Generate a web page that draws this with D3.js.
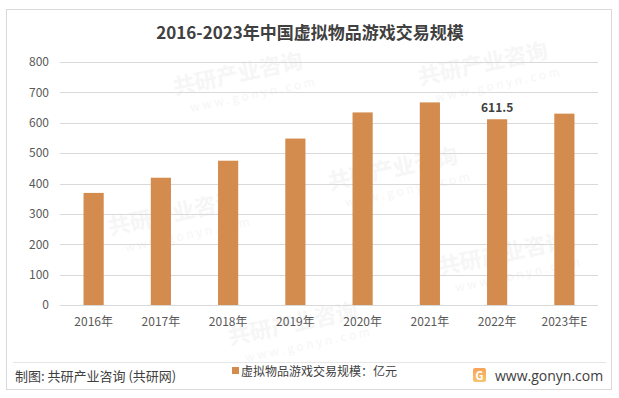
<!DOCTYPE html>
<html>
<head>
<meta charset="utf-8">
<script src="https://cdn.jsdelivr.net/npm/d3@7"></script>
<style>
body { margin: 0; background: #fff; }
svg { display: block; font-family: "Noto Sans CJK SC", "Noto Sans", sans-serif; }
</style>
</head>
<body>
<svg id="chart" width="619" height="398"></svg>
<script>
var categories = ['2016年', '2017年', '2018年', '2019年', '2020年', '2021年', '2022年', '2023年E'];
var values = [369, 419, 475, 548, 634, 667, 611.5, 630];
var yTicks = [0, 100, 200, 300, 400, 500, 600, 700, 800];
var labelled = ['2022年'];

var svg = d3.select('#chart');
var plotLeft = 60;
var plotRight = 598;
var plotTop = 62;
var plotBottom = 305;
var barColor = '#d48b4e';

// frame
svg.append('rect')
	.attr('x', 6.5)
	.attr('y', 9.5)
	.attr('width', 605)
	.attr('height', 380)
	.attr('fill', '#fff')
	.attr('stroke', '#d9d9d9');

// watermarks, kept inside the frame
var marks = [[175, 95], [420, 85], [110, 235], [330, 190], [440, 275], [230, 345]];
marks.forEach(function(m) {
	var g = svg.append('g')
		.attr('transform', `translate(${m[0]},${m[1]}) rotate(-12)`)
		.attr('fill', '#f6f6f6');
	g.append('text')
		.text('共研产业咨询')
		.style('font-size', '22px')
		.style('font-weight', 700);
	g.append('text')
		.text('w w w . g o n y n . c o m')
		.attr('x', 12)
		.attr('y', 20)
		.style('font-size', '12px');
});

var x = d3.scaleBand()
	.domain(categories)
	.range([plotLeft, plotRight])
	.paddingInner(0.7)
	.paddingOuter(0.35);

var y = d3.scaleLinear()
	.domain([0, 800])
	.range([plotBottom, plotTop]);

// grid
svg.append('g')
	.selectAll('line')
	.data(yTicks)
	.enter()
	.append('line')
	.attr('x1', plotLeft)
	.attr('x2', plotRight)
	.attr('y1', d => Math.round(y(d)) + 0.5)
	.attr('y2', d => Math.round(y(d)) + 0.5)
	.attr('stroke', '#d9d9d9')
	.attr('stroke-width', 1);

var yAxis = d3.axisLeft(y)
	.tickValues(yTicks)
	.tickSize(0)
	.tickPadding(11);

svg.append('g')
	.attr('transform', `translate(${plotLeft},0)`)
	.call(yAxis)
	.call(g => g.select('.domain').remove())
	.selectAll('text')
	.attr('fill', '#595959')
	.style('font-size', '12px')
	.style('font-family', '"Noto Sans CJK SC", sans-serif');

svg.selectAll('.bar')
	.data(values)
	.enter()
	.append('rect')
	.attr('class', 'bar')
	.attr('x', (d, i) => x(categories[i]))
	.attr('width', x.bandwidth())
	.attr('y', d => y(d))
	.attr('height', d => y(0) - y(d))
	.attr('fill', barColor);

var xAxis = d3.axisBottom(x)
	.tickSize(0)
	.tickPadding(12);

svg.append('g')
	.attr('transform', `translate(0,${Math.round(y(0)) + 0.5})`)
	.call(xAxis)
	.call(g => g.select('.domain').attr('stroke', '#d9d9d9').attr('d', `M${plotLeft},0H${plotRight}`))
	.selectAll('text')
	.attr('fill', '#595959')
	.style('font-size', '12px')
	.style('font-family', '"Noto Sans CJK SC", sans-serif');

// data label
svg.selectAll('.val')
	.data(values.filter((d, i) => labelled.indexOf(categories[i]) >= 0))
	.enter()
	.append('text')
	.attr('x', d => x(categories[values.indexOf(d)]) + x.bandwidth() / 2)
	.attr('y', d => y(d) - 7)
	.attr('text-anchor', 'middle')
	.attr('fill', '#404040')
	.style('font-size', '12px')
	.style('font-weight', 700)
	.text(d => d);

// title
svg.append('text')
	.text('2016-2023年中国虚拟物品游戏交易规模')
	.attr('x', 310)
	.attr('y', 39)
	.attr('text-anchor', 'middle')
	.attr('fill', '#404040')
	.style('font-size', '17px')
	.style('font-weight', 700);

// footer
svg.append('line')
	.attr('x1', 13)
	.attr('x2', 606)
	.attr('y1', 362.5)
	.attr('y2', 362.5)
	.attr('stroke', '#e6e6e6');

svg.append('text')
	.text('制图: 共研产业咨询 (共研网)')
	.attr('x', 15)
	.attr('y', 381)
	.attr('fill', '#404040')
	.style('font-size', '13px');

svg.append('rect')
	.attr('x', 232)
	.attr('y', 367)
	.attr('width', 7)
	.attr('height', 7)
	.attr('fill', barColor);
svg.append('text')
	.text('虚拟物品游戏交易规模：亿元')
	.attr('x', 241)
	.attr('y', 376)
	.attr('fill', '#404040')
	.style('font-size', '12px');

var grad = svg.append('defs')
	.append('linearGradient')
	.attr('id', 'logo')
	.attr('x1', 0).attr('y1', 0).attr('x2', 0).attr('y2', 1);
grad.append('stop').attr('offset', '0%').attr('stop-color', '#f7a35c');
grad.append('stop').attr('offset', '100%').attr('stop-color', '#f6c56e');

svg.append('rect')
	.attr('x', 473)
	.attr('y', 368)
	.attr('width', 13)
	.attr('height', 14)
	.attr('rx', 2)
	.attr('fill', 'url(#logo)');
svg.append('text')
	.text('G')
	.attr('x', 479.5)
	.attr('y', 380)
	.attr('text-anchor', 'middle')
	.attr('fill', '#fff')
	.style('font-size', '11px')
	.style('font-weight', 700);

svg.append('text')
	.text('www.gonyn.com')
	.attr('x', 495)
	.attr('y', 381)
	.attr('fill', '#404040')
	.style('font-size', '14px')
	.style('font-family', '"Open Sans", sans-serif');
</script>
</body>
</html>
